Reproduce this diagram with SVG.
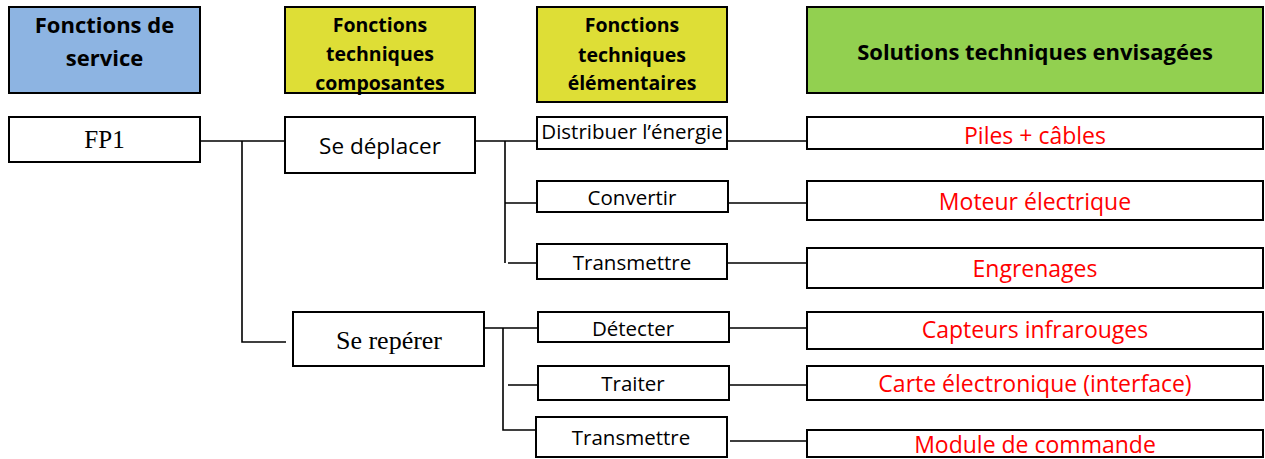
<svg xmlns="http://www.w3.org/2000/svg" width="1265" height="459" viewBox="0 0 1265 459">
<style>
.box{fill:#fff;stroke:#000;stroke-width:2}
.hd{stroke:#000;stroke-width:2}
.hb{font-family:"Open Sans","Liberation Sans",sans-serif;font-weight:bold;fill:#000;text-anchor:middle}
.c{font-family:"Open Sans","Liberation Sans",sans-serif;fill:#000;text-anchor:middle;font-size:20.5px}
.big{font-size:22.5px}
.s{font-family:"Liberation Serif",serif;fill:#000;text-anchor:middle}
.r{font-family:"Open Sans","Liberation Sans",sans-serif;fill:#ff0000;text-anchor:middle;font-size:23px}
.ln{fill:none;stroke:#000;stroke-width:1.6}
</style>
<g id="h1"><rect class="hd" x="9" y="7" width="191" height="86" fill="#8DB4E2"/><text class="hb" font-size="22" x="104.5" y="33">Fonctions de</text><text class="hb" font-size="22" x="104.5" y="66">service</text></g>
<g id="h2"><rect class="hd" x="285" y="7" width="190" height="86" fill="#DEDE36"/><text class="hb" font-size="19.5" x="380" y="32">Fonctions</text><text class="hb" font-size="19.5" x="380" y="61">techniques</text><text class="hb" font-size="19.5" x="380" y="90">composantes</text></g>
<g id="h3"><rect class="hd" x="537" y="7" width="190" height="95" fill="#DEDE36"/><text class="hb" font-size="19.5" x="632" y="32">Fonctions</text><text class="hb" font-size="19.5" x="632" y="62">techniques</text><text class="hb" font-size="19.5" x="632" y="90">élémentaires</text></g>
<g id="h4"><rect class="hd" x="807" y="7" width="456" height="86" fill="#92D050"/><text class="hb" font-size="22" x="1035" y="60">Solutions techniques envisagées</text></g>
<g id="connectors">
<path class="ln" d="M200 141H285M242 141V342H286"/>
<path class="ln" d="M475 141H537M505 141V263M505 203H540M508 263H542"/>
<path class="ln" d="M484 328H538M503 328V430H537M508 385H541"/>
<path class="ln" d="M727 141H808M728 203H808M727 263H807M729 328H808M727 385H807M730 441H808"/>
</g>
<g id="fp1"><rect class="box" x="9" y="117" width="191" height="45"/><text class="s" font-size="25" x="104.5" y="148">FP1</text></g>
<g id="deplacer"><rect class="box" x="285" y="117" width="190" height="56"/><text class="c big" x="380" y="154">Se déplacer</text></g>
<g id="reperer"><rect class="box" x="293" y="312" width="191" height="54"/><text class="s" font-size="26" x="389" y="349">Se repérer</text></g>
<g id="distribuer"><rect class="box" x="537" y="117" width="190" height="32"/><text class="c" x="632" y="139">Distribuer l’énergie</text></g>
<g id="convertir"><rect class="box" x="537" y="181" width="191" height="31"/><text class="c" x="632" y="205">Convertir</text></g>
<g id="transmettre1"><rect class="box" x="537" y="244" width="190" height="35"/><text class="c" x="632" y="270">Transmettre</text></g>
<g id="detecter"><rect class="box" x="538" y="312" width="191" height="30"/><text class="c" x="633" y="336">Détecter</text></g>
<g id="traiter"><rect class="box" x="538" y="366" width="191" height="34"/><text class="c" x="633" y="391">Traiter</text></g>
<g id="transmettre2"><rect class="box" x="536" y="417" width="191" height="40"/><text class="c" x="631" y="445">Transmettre</text></g>
<g id="piles"><rect class="box" x="807" y="117" width="456" height="32"/><text class="r" x="1035" y="144">Piles + câbles</text></g>
<g id="moteur"><rect class="box" x="807" y="181" width="456" height="39"/><text class="r" x="1035" y="210">Moteur électrique</text></g>
<g id="engrenages"><rect class="box" x="807" y="248" width="456" height="40"/><text class="r" x="1035" y="277">Engrenages</text></g>
<g id="capteurs"><rect class="box" x="807" y="312" width="456" height="37"/><text class="r" x="1035" y="338">Capteurs infrarouges</text></g>
<g id="carte"><rect class="box" x="807" y="366" width="456" height="34"/><text class="r" x="1035" y="392">Carte électronique (interface)</text></g>
<g id="module"><rect class="box" x="807" y="430" width="456" height="27"/><text class="r" x="1035" y="453">Module de commande</text></g>
</svg>
